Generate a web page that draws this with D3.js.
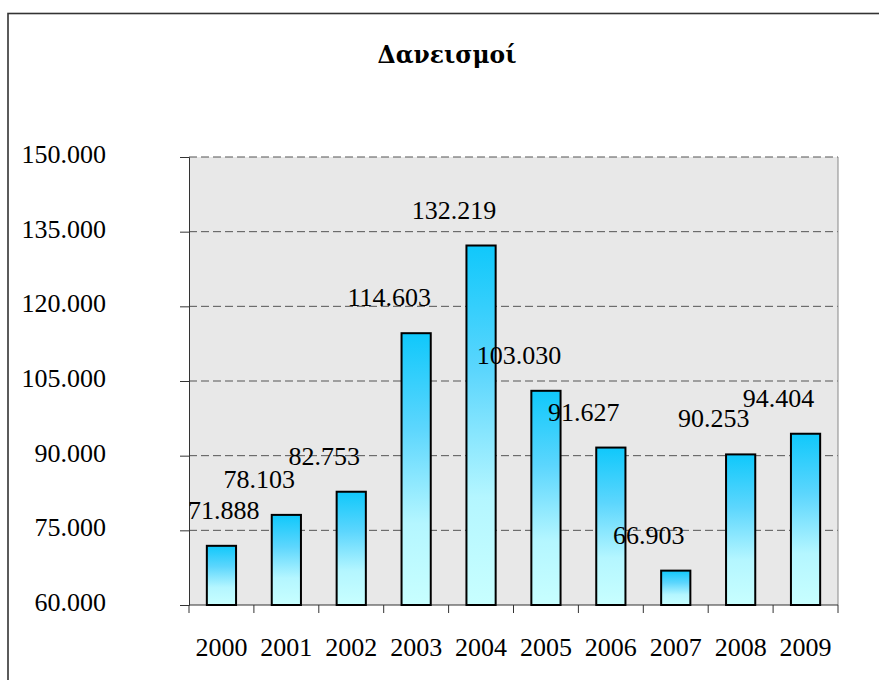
<!DOCTYPE html>
<html>
<head>
<meta charset="utf-8">
<script src="https://cdn.jsdelivr.net/npm/d3@7"></script>
<style>
  body { margin: 0; background: #fff; }
</style>
</head>
<body>
<div id="chart"></div>
<script>
// data
const years = ["2000", "2001", "2002", "2003", "2004", "2005", "2006", "2007", "2008", "2009"];
const loans = [71888, 78103, 82753, 114603, 132219, 103030, 91627, 66903, 90253, 94404];
const yTicks = [60000, 75000, 90000, 105000, 120000, 135000, 150000];
const title = "Δανεισμοί";

const width = 879, height = 680;
const plot = { left: 189, right: 838, top: 157, bottom: 605 };
const serif = "'Liberation Serif', 'Times New Roman', serif";

// greek number style: 71.888
const fmt = d3.formatLocale({ decimal: ",", thousands: ".", grouping: [3], currency: ["", "€"] }).format(",d");

const svg = d3.select("#chart").append("svg")
  .attr("width", width)
  .attr("height", height)
  .attr("font-family", serif);

const defs = svg.append("defs");
const grad = defs.append("linearGradient")
  .attr("id", "barFill")
  .attr("x1", 0).attr("y1", 0).attr("x2", 0).attr("y2", 1);
grad.append("stop").attr("offset", "0%").attr("stop-color", "#10c8fb");
grad.append("stop").attr("offset", "35%").attr("stop-color", "#5cd6fd");
grad.append("stop").attr("offset", "70%").attr("stop-color", "#b4f6ff");
grad.append("stop").attr("offset", "100%").attr("stop-color", "#c8ffff");

// outer frame
svg.append("rect")
  .attr("x", 8).attr("y", 13.5)
  .attr("width", 900).attr("height", 700)
  .attr("fill", "none")
  .attr("stroke", "#333")
  .attr("stroke-width", 1.6);

// title, sized so it spans the same width as the original
const titleText = svg.append("text")
  .attr("x", 447).attr("y", 63)
  .attr("text-anchor", "middle")
  .attr("font-family", "'DejaVu Serif', serif")
  .attr("font-size", 24)
  .attr("font-weight", "bold")
  .text(title);
const tl = titleText.node().getComputedTextLength();
titleText.attr("font-size", 24 * 139 / tl);

const x = d3.scaleBand()
  .domain(years)
  .range([plot.left, plot.right])
  .paddingInner(0.55)
  .paddingOuter(0.275);

const y = d3.scaleLinear()
  .domain([60000, 150000])
  .range([plot.bottom, plot.top]);

// plot background
svg.append("rect")
  .attr("x", plot.left).attr("y", plot.top)
  .attr("width", plot.right - plot.left)
  .attr("height", plot.bottom - plot.top)
  .attr("fill", "#e8e8e8");

// gridlines
svg.append("g")
  .selectAll("line")
  .data(yTicks.slice(1))
  .join("line")
  .attr("x1", plot.left).attr("x2", plot.right)
  .attr("y1", d => y(d)).attr("y2", d => y(d))
  .attr("stroke", "#555")
  .attr("stroke-width", 1)
  .attr("stroke-dasharray", "8,4");

// right edge of plot
svg.append("line")
  .attr("x1", plot.right).attr("x2", plot.right)
  .attr("y1", plot.top).attr("y2", plot.bottom)
  .attr("stroke", "#888");

// y axis
const yAxis = svg.append("g")
  .attr("transform", `translate(${plot.left},0)`)
  .call(d3.axisLeft(y).tickValues(yTicks).tickSize(9).tickFormat(""));
yAxis.select(".domain").attr("stroke", "#333");
yAxis.selectAll(".tick line").attr("stroke", "#333");

svg.append("g")
  .selectAll("text")
  .data(yTicks)
  .join("text")
  .attr("x", 106)
  .attr("y", d => y(d) + 6)
  .attr("text-anchor", "end")
  .attr("font-size", 26)
  .text(d => fmt(d));

// x axis line + ticks between categories
svg.append("line")
  .attr("x1", plot.left).attr("x2", plot.right)
  .attr("y1", plot.bottom).attr("y2", plot.bottom)
  .attr("stroke", "#333");

const bounds = years.map(d => x(d) - x.step() * x.paddingInner() / 2)
  .concat([plot.right]);
svg.append("g")
  .selectAll("line")
  .data(bounds)
  .join("line")
  .attr("x1", d => d).attr("x2", d => d)
  .attr("y1", plot.bottom).attr("y2", plot.bottom + 8)
  .attr("stroke", "#333");

svg.append("g")
  .selectAll("text")
  .data(years)
  .join("text")
  .attr("x", d => x(d) + x.bandwidth() / 2)
  .attr("y", 656)
  .attr("text-anchor", "middle")
  .attr("font-size", 26)
  .text(d => d);

// bars
svg.append("g")
  .selectAll("rect")
  .data(loans)
  .join("rect")
  .attr("x", (d, i) => x(years[i]))
  .attr("y", d => y(d))
  .attr("width", x.bandwidth())
  .attr("height", d => plot.bottom - y(d))
  .attr("fill", "url(#barFill)")
  .attr("stroke", "#000")
  .attr("stroke-width", 2);

// data labels, shifted up-left like the original, kept inside the plot
const labels = svg.append("g")
  .selectAll("text")
  .data(loans)
  .join("text")
  .attr("y", d => y(d) - 27)
  .attr("text-anchor", "middle")
  .attr("font-size", 26)
  .text(d => fmt(d));

labels.attr("x", function (d, i) {
  const w = this.getComputedTextLength();
  const cx = x(years[i]) + x.bandwidth() / 2 - 27;
  return Math.max(cx, plot.left + w / 2 - 1);
});
</script>
</body>
</html>
